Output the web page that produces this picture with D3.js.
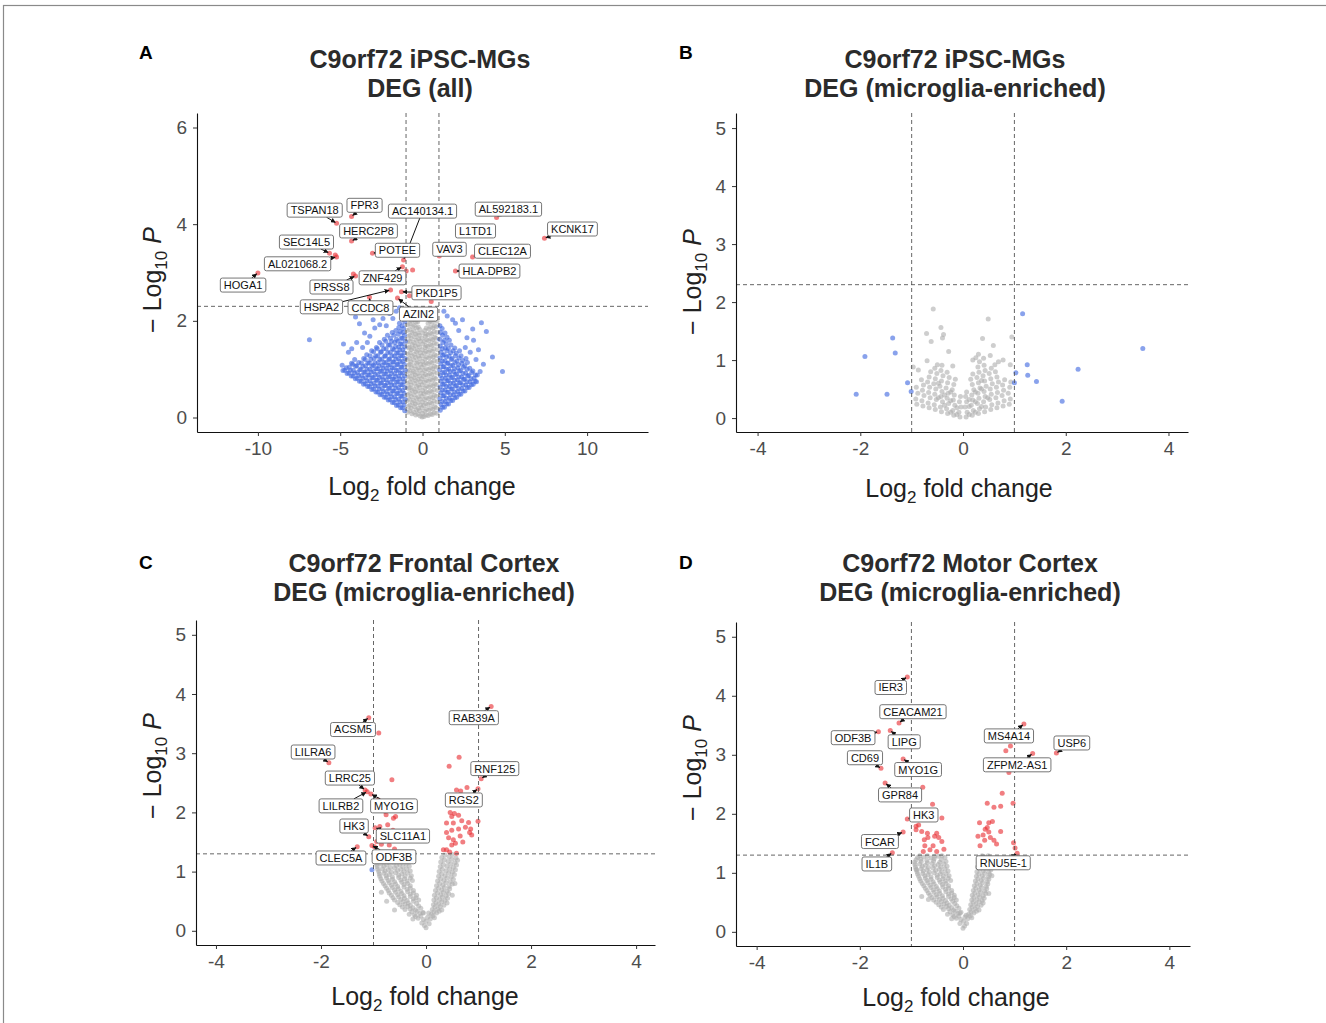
<!DOCTYPE html>
<html>
<head>
<meta charset="utf-8">
<script src="https://cdn.jsdelivr.net/npm/d3@7"></script>
<style>
  body { margin: 0; background: #fff; }
  svg { display: block; font-family: "Liberation Sans", Arial, sans-serif; }
</style>
</head>
<body>
<svg id="fig" width="1326" height="1023"></svg>
<script>
// ---- panel A : iPSC-MGs, all genes ----
const aGrey = [
  [-0.9,0.11],[-0.86,0.23],[-0.93,0.35],[-0.88,0.47],[-0.84,0.6],[-0.92,0.71],[-0.87,0.84],[-0.9,0.95],[-0.85,1.08],[-0.93,1.2],[-0.88,1.31],[-0.83,1.44],[-0.91,1.56],[-0.86,1.68],[-0.92,1.8],[-0.88,1.92],[-0.84,2.04],
  [-0.64,0.08],[-0.68,0.19],[-0.62,0.31],[-0.67,0.43],[-0.63,0.56],[-0.69,0.67],[-0.65,0.79],[-0.61,0.92],[-0.66,1.03],[-0.7,1.15],[-0.63,1.27],[-0.67,1.4],[-0.62,1.51],[-0.68,1.63],[-0.64,1.76],[-0.6,1.88],[-0.66,1.99],[-0.62,2.11],[-0.67,2.23],
  [-0.41,0.05],[-0.37,0.16],[-0.43,0.28],[-0.38,0.4],[-0.42,0.53],[-0.36,0.64],[-0.4,0.76],[-0.44,0.88],[-0.39,1.0],[-0.35,1.12],[-0.41,1.24],[-0.37,1.36],[-0.43,1.48],[-0.38,1.6],[-0.42,1.72],[-0.36,1.85],[-0.4,1.97],[-0.44,2.1],
  [-0.14,0.03],[-0.18,0.14],[-0.12,0.26],[-0.16,0.38],[-0.11,0.5],[-0.17,0.62],[-0.13,0.74],[-0.19,0.86],[-0.15,0.98],[-0.11,1.1],[-0.17,1.22],[-0.13,1.34],[-0.18,1.46],[-0.14,1.58],[-0.2,1.7],[-0.16,1.82],
  [0.09,0.02],[0.13,0.13],[0.07,0.25],[0.12,0.37],[0.08,0.49],[0.14,0.61],[0.1,0.73],[0.06,0.85],[0.12,0.97],[0.08,1.09],[0.14,1.21],[0.1,1.33],[0.16,1.45],[0.11,1.57],[0.17,1.68],[0.13,1.8],
  [0.34,0.04],[0.38,0.15],[0.32,0.27],[0.37,0.39],[0.33,0.51],[0.39,0.63],[0.35,0.75],[0.31,0.87],[0.37,0.99],[0.33,1.11],[0.39,1.23],[0.35,1.35],[0.31,1.47],[0.37,1.59],[0.33,1.71],[0.38,1.83],[0.34,1.95],[0.4,2.06],
  [0.59,0.06],[0.63,0.17],[0.57,0.29],[0.62,0.41],[0.58,0.53],[0.64,0.65],[0.6,0.77],[0.56,0.89],[0.62,1.01],[0.58,1.13],[0.64,1.25],[0.6,1.37],[0.56,1.49],[0.62,1.61],[0.58,1.73],[0.63,1.85],[0.59,1.97],[0.55,2.09],[0.61,2.2],
  [0.86,0.09],[0.82,0.2],[0.88,0.32],[0.84,0.44],[0.9,0.56],[0.85,0.68],[0.81,0.8],[0.87,0.92],[0.83,1.04],[0.89,1.16],[0.84,1.28],[0.9,1.4],[0.85,1.52],[0.81,1.64],[0.87,1.76],[0.83,1.88],[0.88,1.99]
];
const aGreyFill = [
  [-0.78,0.14],[-0.76,0.26],[-0.8,0.38],[-0.77,0.5],[-0.79,0.62],[-0.75,0.74],[-0.78,0.86],[-0.81,0.98],[-0.77,1.1],[-0.79,1.22],[-0.76,1.34],[-0.8,1.46],[-0.78,1.58],[-0.75,1.7],[-0.79,1.82],[-0.77,1.94],[-0.8,2.06],[-0.76,2.16],
  [-0.52,0.11],[-0.5,0.23],[-0.54,0.35],[-0.51,0.47],[-0.53,0.59],[-0.49,0.71],[-0.52,0.83],[-0.55,0.95],[-0.51,1.07],[-0.53,1.19],[-0.5,1.31],[-0.54,1.43],[-0.52,1.55],[-0.49,1.67],[-0.53,1.79],[-0.51,1.91],[-0.54,2.03],[-0.5,2.15],
  [-0.27,0.07],[-0.25,0.19],[-0.29,0.31],[-0.26,0.43],[-0.28,0.55],[-0.24,0.67],[-0.27,0.79],[-0.3,0.91],[-0.26,1.03],[-0.28,1.15],[-0.25,1.27],[-0.29,1.39],[-0.27,1.51],[-0.24,1.63],[-0.28,1.75],[-0.26,1.87],[-0.29,1.98],
  [-0.02,0.01],[0.0,0.09],[-0.04,0.2],[-0.01,0.32],[-0.03,0.44],[0.01,0.56],[-0.02,0.68],[-0.05,0.8],[-0.01,0.92],[-0.03,1.04],[0.0,1.16],[-0.04,1.28],[-0.02,1.4],[0.01,1.52],[-0.03,1.64],[-0.01,1.75],
  [0.22,0.05],[0.24,0.17],[0.2,0.29],[0.23,0.41],[0.21,0.53],[0.25,0.65],[0.22,0.77],[0.19,0.89],[0.23,1.01],[0.21,1.13],[0.24,1.25],[0.2,1.37],[0.22,1.49],[0.25,1.61],[0.21,1.73],[0.23,1.85],
  [0.48,0.07],[0.5,0.19],[0.46,0.31],[0.49,0.43],[0.47,0.55],[0.51,0.67],[0.48,0.79],[0.45,0.91],[0.49,1.03],[0.47,1.15],[0.5,1.27],[0.46,1.39],[0.48,1.51],[0.51,1.63],[0.47,1.75],[0.49,1.87],[0.46,1.99],[0.5,2.11],
  [0.72,0.1],[0.74,0.22],[0.7,0.34],[0.73,0.46],[0.71,0.58],[0.75,0.7],[0.72,0.82],[0.69,0.94],[0.73,1.06],[0.71,1.18],[0.74,1.3],[0.7,1.42],[0.72,1.54],[0.75,1.66],[0.71,1.78],[0.73,1.9],[0.7,2.02]
];
const aBlue = [
  [-1.08,0.14],[-1.13,0.26],[-1.06,0.38],[-1.12,0.5],[-1.07,0.62],[-1.14,0.74],[-1.09,0.86],[-1.05,0.98],[-1.11,1.1],[-1.07,1.22],[-1.13,1.34],[-1.08,1.46],[-1.04,1.58],[-1.1,1.7],[-1.15,1.84],[-1.08,1.98],[-1.12,2.12],
  [-1.33,0.2],[-1.38,0.32],[-1.31,0.44],[-1.37,0.56],[-1.32,0.68],[-1.39,0.8],[-1.34,0.92],[-1.3,1.04],[-1.36,1.16],[-1.32,1.28],[-1.38,1.4],[-1.33,1.52],[-1.29,1.64],[-1.35,1.78],[-1.4,1.95],
  [-1.58,0.25],[-1.63,0.37],[-1.56,0.49],[-1.62,0.61],[-1.57,0.73],[-1.64,0.85],[-1.59,0.97],[-1.55,1.09],[-1.61,1.21],[-1.57,1.33],[-1.63,1.47],[-1.58,1.62],[-1.62,1.8],
  [-1.83,0.31],[-1.88,0.43],[-1.81,0.55],[-1.87,0.67],[-1.82,0.79],[-1.89,0.91],[-1.84,1.03],[-1.8,1.15],[-1.86,1.28],[-1.82,1.42],[-1.88,1.58],[-1.84,1.76],
  [-2.08,0.36],[-2.13,0.48],[-2.06,0.6],[-2.12,0.72],[-2.07,0.84],[-2.14,0.96],[-2.09,1.08],[-2.05,1.2],[-2.11,1.34],[-2.07,1.5],[-2.13,1.7],
  [-2.33,0.42],[-2.38,0.54],[-2.31,0.66],[-2.37,0.78],[-2.32,0.9],[-2.39,1.02],[-2.34,1.14],[-2.3,1.27],[-2.36,1.42],[-2.32,1.62],
  [-2.58,0.47],[-2.63,0.59],[-2.56,0.71],[-2.62,0.83],[-2.57,0.95],[-2.64,1.07],[-2.59,1.2],[-2.55,1.35],[-2.61,1.55],
  [-2.83,0.53],[-2.88,0.65],[-2.81,0.77],[-2.87,0.89],[-2.82,1.01],[-2.89,1.13],[-2.84,1.27],[-2.8,1.45],
  [-3.08,0.58],[-3.13,0.7],[-3.06,0.82],[-3.12,0.94],[-3.07,1.06],[-3.14,1.2],[-3.09,1.38],
  [-3.33,0.64],[-3.38,0.76],[-3.31,0.88],[-3.37,1.0],[-3.32,1.13],[-3.39,1.3],
  [-3.58,0.69],[-3.63,0.81],[-3.56,0.93],[-3.62,1.06],[-3.57,1.22],
  [-3.83,0.75],[-3.88,0.87],[-3.81,0.99],[-3.87,1.14],
  [-4.08,0.8],[-4.13,0.92],[-4.06,1.06],[-4.12,1.2],
  [-4.33,0.86],[-4.38,0.98],[-4.31,1.12],
  [-4.58,0.91],[-4.63,1.03],[-4.83,0.97],[-4.88,1.08],
  [-6.87,1.61],[-4.8,1.52],[-3.83,1.94],[-3.52,1.75],[-4.0,1.55],[-3.2,1.68],[-2.9,1.85],[-2.6,1.92],[-2.4,2.05],[-3.0,2.02],
  [-2.0,2.15],[-1.6,2.2],[-1.4,2.27],[-4.5,1.35],[-3.64,1.45],[-2.2,1.9],[-1.8,2.05],[-4.3,1.42],[-3.35,1.55],[-4.07,2.08],
  [1.08,0.15],[1.13,0.27],[1.06,0.39],[1.12,0.51],[1.07,0.63],[1.14,0.75],[1.09,0.87],[1.05,0.99],[1.11,1.11],[1.07,1.23],[1.13,1.35],[1.08,1.48],[1.04,1.62],[1.1,1.76],[1.06,1.9],
  [1.33,0.21],[1.38,0.33],[1.31,0.45],[1.37,0.57],[1.32,0.69],[1.39,0.81],[1.34,0.93],[1.3,1.05],[1.36,1.17],[1.32,1.3],[1.38,1.44],[1.33,1.6],[1.37,1.75],
  [1.58,0.28],[1.63,0.4],[1.56,0.52],[1.62,0.64],[1.57,0.76],[1.64,0.88],[1.59,1.0],[1.55,1.13],[1.61,1.27],[1.57,1.43],[1.63,1.6],
  [1.83,0.35],[1.88,0.47],[1.81,0.59],[1.87,0.71],[1.82,0.83],[1.89,0.95],[1.84,1.08],[1.8,1.22],[1.86,1.38],
  [2.08,0.42],[2.13,0.54],[2.06,0.66],[2.12,0.78],[2.07,0.9],[2.14,1.03],[2.09,1.17],[2.05,1.33],
  [2.33,0.48],[2.38,0.6],[2.31,0.72],[2.37,0.84],[2.32,0.97],[2.39,1.12],[2.34,1.28],
  [2.58,0.55],[2.63,0.67],[2.56,0.79],[2.62,0.92],[2.57,1.07],[2.64,1.22],
  [2.83,0.62],[2.88,0.74],[2.81,0.87],[2.87,1.02],[3.08,0.69],[3.13,0.81],[3.06,0.96],[3.28,0.74],[3.33,0.88],
  [1.83,2.02],[2.43,2.02],[3.58,1.96],[3.88,1.78],[3.05,1.83],[3.1,1.6],[4.25,1.25],[4.86,0.95],[2.7,1.65],[2.2,1.8],
  [1.5,2.1],[3.4,1.4],[2.9,1.35],[3.7,1.1],[1.3,2.2],[2.0,1.95],[3.5,0.95],[2.6,1.45],[3.25,1.2]
];
const aBlueFill = [
  [-1.22,0.2],[-1.2,0.32],[-1.24,0.44],[-1.21,0.56],[-1.23,0.68],[-1.19,0.8],[-1.22,0.92],[-1.25,1.04],[-1.21,1.16],[-1.23,1.28],[-1.2,1.4],[-1.24,1.52],[-1.22,1.64],[-1.19,1.76],[-1.23,1.9],[-1.21,2.04],
  [-1.47,0.26],[-1.45,0.38],[-1.49,0.5],[-1.46,0.62],[-1.48,0.74],[-1.44,0.86],[-1.47,0.98],[-1.5,1.1],[-1.46,1.22],[-1.48,1.34],[-1.45,1.46],[-1.49,1.58],[-1.47,1.72],[-1.44,1.86],
  [-1.72,0.31],[-1.7,0.43],[-1.74,0.55],[-1.71,0.67],[-1.73,0.79],[-1.69,0.91],[-1.72,1.03],[-1.75,1.15],[-1.71,1.27],[-1.73,1.4],[-1.7,1.55],[-1.74,1.7],
  [-1.97,0.37],[-1.95,0.49],[-1.99,0.61],[-1.96,0.73],[-1.98,0.85],[-1.94,0.97],[-1.97,1.09],[-2.0,1.21],[-1.96,1.35],[-1.98,1.5],[-1.95,1.64],
  [-2.22,0.42],[-2.2,0.54],[-2.24,0.66],[-2.21,0.78],[-2.23,0.9],[-2.19,1.02],[-2.22,1.14],[-2.25,1.27],[-2.21,1.42],[-2.23,1.58],
  [-2.47,0.48],[-2.45,0.6],[-2.49,0.72],[-2.46,0.84],[-2.48,0.96],[-2.44,1.08],[-2.47,1.21],[-2.5,1.36],[-2.46,1.5],
  [-2.72,0.53],[-2.7,0.65],[-2.74,0.77],[-2.71,0.89],[-2.73,1.01],[-2.69,1.14],[-2.72,1.28],[-2.75,1.42],
  [-2.97,0.59],[-2.95,0.71],[-2.99,0.83],[-2.96,0.95],[-2.98,1.08],[-2.94,1.22],[-2.97,1.36],
  [-3.22,0.64],[-3.2,0.76],[-3.24,0.88],[-3.21,1.0],[-3.23,1.13],[-3.19,1.28],
  [-3.47,0.7],[-3.45,0.82],[-3.49,0.94],[-3.46,1.07],[-3.48,1.2],
  [-3.72,0.75],[-3.7,0.87],[-3.74,1.0],[-3.71,1.13],
  [-3.97,0.81],[-3.95,0.93],[-3.99,1.07],[-4.22,0.86],[-4.2,0.98],[-4.24,1.1],
  [-4.47,0.92],[-4.45,1.04],[-4.72,0.98],
  [1.22,0.21],[1.2,0.33],[1.24,0.45],[1.21,0.57],[1.23,0.69],[1.19,0.81],[1.22,0.93],[1.25,1.05],[1.21,1.17],[1.23,1.29],[1.2,1.42],[1.24,1.55],[1.22,1.7],[1.19,1.84],
  [1.47,0.28],[1.45,0.4],[1.49,0.52],[1.46,0.64],[1.48,0.76],[1.44,0.88],[1.47,1.0],[1.5,1.12],[1.46,1.25],[1.48,1.38],[1.45,1.52],[1.49,1.66],
  [1.72,0.35],[1.7,0.47],[1.74,0.59],[1.71,0.71],[1.73,0.83],[1.69,0.95],[1.72,1.07],[1.75,1.2],[1.71,1.34],[1.73,1.5],
  [1.97,0.41],[1.95,0.53],[1.99,0.65],[1.96,0.77],[1.98,0.89],[1.94,1.01],[1.97,1.14],[2.0,1.28],[1.96,1.44],
  [2.22,0.48],[2.2,0.6],[2.24,0.72],[2.21,0.84],[2.23,0.96],[2.19,1.09],[2.22,1.23],[2.25,1.38],
  [2.47,0.55],[2.45,0.67],[2.49,0.79],[2.46,0.91],[2.48,1.04],[2.44,1.18],
  [2.72,0.62],[2.7,0.74],[2.74,0.86],[2.71,1.0],[2.73,1.14],
  [2.97,0.68],[2.95,0.8],[2.99,0.93],[3.2,0.75],[3.22,0.88]
];
const aRed = [
  [-5.22,4.02,'TSPAN18'],[-4.31,4.16,'FPR3'],[-4.31,3.65,'HERC2P8'],[-5.65,3.40,'SEC14L5'],
  [-5.22,3.32,'AL021068.2'],[-10.0,2.99,'HOGA1'],[-3.04,3.40,'POTEE'],[-1.15,3.26,'AC140134.1'],
  [-1.22,3.12,'ZNF429'],[-4.07,2.93,'PRSS8'],[-1.94,2.64,'HSPA2'],[-3.22,2.49,'CCDC8'],
  [-1.28,2.60,'PKD1P5'],[-1.52,2.47,'AZIN2'],[4.5,4.14,'AL592183.1'],[3.3,3.84,'L1TD1'],
  [7.41,3.71,'KCNK17'],[1.02,3.34,'VAV3'],[3.04,3.32,'CLEC12A'],[2.0,3.03,'HLA-DPB2'],
  [-0.6,3.05],[-0.99,3.03],[-0.79,2.52],[0.53,2.4],[-4.2,2.97],[-5.3,3.36]
];
const aLabelAt = {
  TSPAN18:[-6.55,4.29], FPR3:[-3.52,4.39], HERC2P8:[-3.28,3.86], SEC14L5:[-7.05,3.63],
  'AL021068.2':[-7.59,3.18], HOGA1:[-10.9,2.74], POTEE:[-1.52,3.46], 'AC140134.1':[0,4.27],
  ZNF429:[-2.43,2.89], PRSS8:[-5.53,2.70], HSPA2:[-6.14,2.29], CCDC8:[-3.16,2.27],
  PKD1P5:[0.85,2.58], AZIN2:[-0.24,2.14], 'AL592183.1':[5.22,4.31], L1TD1:[3.22,3.86],
  KCNK17:[9.11,3.9], VAV3:[1.64,3.48], CLEC12A:[4.86,3.44], 'HLA-DPB2':[4.07,3.03]
};

// ---- panel B : iPSC-MGs, microglia-enriched ----
const bGrey = [
  [-0.9,0.24],[-0.92,0.33],[-0.88,0.43],[-0.91,0.53],
  [-0.78,0.21],[-0.8,0.3],[-0.76,0.39],[-0.79,0.48],[-0.77,0.57],[-0.81,0.66],
  [-0.66,0.18],[-0.68,0.26],[-0.64,0.35],[-0.67,0.44],[-0.65,0.53],[-0.69,0.62],[-0.66,0.71],[-0.63,0.8],
  [-0.54,0.15],[-0.56,0.23],[-0.52,0.32],[-0.55,0.41],[-0.53,0.5],[-0.57,0.59],[-0.54,0.68],[-0.51,0.77],[-0.55,0.86],
  [-0.42,0.11],[-0.44,0.19],[-0.4,0.28],[-0.43,0.37],[-0.41,0.46],[-0.45,0.55],[-0.42,0.64],[-0.39,0.73],[-0.43,0.82],[-0.41,0.91],
  [-0.3,0.08],[-0.32,0.16],[-0.28,0.25],[-0.31,0.34],[-0.29,0.43],[-0.33,0.52],[-0.3,0.61],[-0.27,0.7],[-0.31,0.79],
  [-0.18,0.05],[-0.2,0.13],[-0.16,0.22],[-0.19,0.31],[-0.17,0.4],[-0.21,0.49],[-0.18,0.58],[-0.15,0.67],
  [-0.06,0.02],[-0.08,0.1],[-0.04,0.19],[-0.07,0.28],[-0.05,0.37],
  [0.06,0.02],[0.08,0.1],[0.04,0.19],[0.07,0.28],[0.05,0.37],[0.07,0.45],
  [0.18,0.05],[0.2,0.13],[0.16,0.22],[0.19,0.31],[0.17,0.4],[0.21,0.49],[0.18,0.58],[0.15,0.67],[0.19,0.76],
  [0.3,0.08],[0.32,0.16],[0.28,0.25],[0.31,0.34],[0.29,0.43],[0.33,0.52],[0.3,0.61],[0.27,0.7],[0.31,0.79],[0.29,0.88],[0.32,0.97],
  [0.42,0.11],[0.44,0.19],[0.4,0.28],[0.43,0.37],[0.41,0.46],[0.45,0.55],[0.42,0.64],[0.39,0.73],[0.43,0.82],[0.41,0.91],
  [0.54,0.15],[0.56,0.23],[0.52,0.32],[0.55,0.41],[0.53,0.5],[0.57,0.59],[0.54,0.68],[0.51,0.77],[0.55,0.86],
  [0.66,0.18],[0.68,0.26],[0.64,0.35],[0.67,0.44],[0.65,0.53],[0.69,0.62],[0.66,0.71],[0.63,0.8],
  [0.78,0.21],[0.8,0.3],[0.76,0.39],[0.79,0.48],[0.77,0.57],[0.81,0.66],
  [0.9,0.24],[0.92,0.33],[0.88,0.43],[0.91,0.53],[0.93,0.62],
  [-0.12,0.06],[-0.24,0.1],[0.12,0.06],[0.24,0.1],[-0.12,0.18],[0.12,0.2],[0.24,0.28],[-0.24,0.3],[0.36,0.2],[-0.36,0.22],
  [0.24,0.45],[-0.24,0.45],[0.36,0.5],[-0.36,0.4],[0.12,0.32],[0.48,0.35],[-0.48,0.35],[0.36,0.65],[-0.48,0.6],
  [-0.58,1.88],[-0.43,1.56],[-0.71,1.46],[-0.38,1.44],[-0.4,1.38],[-0.62,1.32],[0.49,1.71],[0.59,1.25],[0.95,1.4],[0.38,1.37],
  [-0.28,1.15],[-0.7,0.99],[-0.5,0.92],[0.19,1.0],[0.25,1.04],[0.4,1.03],[0.53,1.08],[0.69,0.97],[0.78,1.0],[0.92,0.92],
  [-0.97,0.88],[-0.87,0.83],[0.62,0.92],[0.3,1.1],[-0.2,0.9]
];
const bBlue = [
  [-2.08,0.41],[-1.91,1.06],[-1.48,0.41],[-1.37,1.38],[-1.32,1.12],[-1.08,0.61],[-1.01,0.46],[1.0,0.61],
  [1.03,0.78],[1.16,1.8],[1.25,0.92],[1.26,0.74],[1.43,0.63],[1.93,0.29],[2.24,0.84],[3.5,1.2]
];
const bRed = [];

// ---- panel C : frontal cortex ----
const cGrey = [
  [0.0,0.05],[-0.03,0.09],[-0.08,0.13],[0.06,0.12],[0.0,0.16],
  [-0.25,0.2],[-0.15,0.21],[-0.05,0.19],[0.08,0.2],[0.16,0.22],
  [-0.32,0.28],[-0.22,0.27],[-0.12,0.29],[0.1,0.28],[0.2,0.3],
  [-0.4,0.36],[-0.3,0.37],[-0.2,0.35],[-0.1,0.38],[0.12,0.36],[0.22,0.37],[0.3,0.35],
  [-0.5,0.44],[-0.4,0.45],[-0.3,0.43],[-0.18,0.46],[0.14,0.44],[0.24,0.45],[0.34,0.43],
  [-0.6,0.52],[-0.48,0.53],[-0.36,0.51],[-0.24,0.54],[-0.14,0.52],[0.15,0.52],[0.26,0.53],[0.36,0.51],
  [-0.66,0.6],[-0.54,0.61],[-0.42,0.59],[-0.3,0.62],[-0.18,0.6],[0.16,0.6],[0.28,0.61],[0.38,0.59],
  [-0.72,0.68],[-0.6,0.69],[-0.48,0.67],[-0.36,0.7],[-0.24,0.68],[0.18,0.68],[0.3,0.69],[0.4,0.67],
  [-0.78,0.76],[-0.66,0.77],[-0.54,0.75],[-0.42,0.78],[-0.3,0.76],[0.2,0.76],[0.32,0.77],[0.44,0.75],
  [-0.84,0.84],[-0.72,0.85],[-0.6,0.83],[-0.48,0.86],[-0.36,0.84],[-0.26,0.85],[0.22,0.84],[0.34,0.85],[0.46,0.83],
  [-0.88,0.92],[-0.76,0.93],[-0.64,0.91],[-0.52,0.94],[-0.4,0.92],[-0.28,0.93],[0.24,0.92],[0.36,0.93],[0.48,0.91],
  [-0.9,1.0],[-0.78,1.01],[-0.66,0.99],[-0.54,1.02],[-0.42,1.0],[-0.3,1.01],[0.25,1.0],[0.38,1.01],[0.5,0.99],
  [-0.93,1.08],[-0.8,1.09],[-0.68,1.07],[-0.56,1.1],[-0.44,1.08],[-0.32,1.09],[0.27,1.08],[0.4,1.09],[0.52,1.07],
  [-0.95,1.16],[-0.82,1.17],[-0.7,1.15],[-0.58,1.18],[-0.46,1.16],[-0.34,1.17],[0.28,1.16],[0.42,1.17],[0.55,1.15],
  [-0.9,1.24],[-0.78,1.25],[-0.64,1.23],[-0.5,1.26],[-0.36,1.24],[0.3,1.24],[0.44,1.25],[0.57,1.23],
  [-0.6,0.35],[-0.75,0.5],[0.5,0.6],[0.55,0.8],[-0.85,0.65],[0.05,0.3],[-0.05,0.3]
];
const cGreyFill = [
  [-0.2,0.24],[-0.1,0.25],[0.03,0.23],[0.13,0.25],
  [-0.27,0.32],[-0.17,0.33],[-0.06,0.31],[0.15,0.32],[0.25,0.33],
  [-0.45,0.4],[-0.35,0.41],[-0.25,0.39],[-0.14,0.42],[0.17,0.4],[0.27,0.41],
  [-0.54,0.48],[-0.44,0.49],[-0.34,0.47],[-0.24,0.5],[0.19,0.48],[0.3,0.49],[0.4,0.47],
  [-0.63,0.56],[-0.52,0.57],[-0.41,0.55],[-0.3,0.58],[-0.19,0.56],[0.2,0.56],[0.31,0.57],[0.41,0.55],
  [-0.7,0.64],[-0.58,0.65],[-0.46,0.63],[-0.35,0.66],[-0.24,0.64],[0.22,0.64],[0.33,0.65],[0.43,0.63],
  [-0.75,0.72],[-0.64,0.73],[-0.53,0.71],[-0.42,0.74],[-0.3,0.72],[0.24,0.72],[0.35,0.73],[0.45,0.71],
  [-0.81,0.8],[-0.7,0.81],[-0.58,0.79],[-0.46,0.82],[-0.35,0.8],[0.26,0.8],[0.38,0.81],[0.5,0.79],
  [-0.86,0.88],[-0.75,0.89],[-0.64,0.87],[-0.52,0.9],[-0.41,0.88],[-0.3,0.89],[0.28,0.88],[0.4,0.89],[0.52,0.87],
  [-0.89,0.96],[-0.8,0.97],[-0.7,0.95],[-0.58,0.98],[-0.46,0.96],[-0.35,0.97],[0.3,0.96],[0.43,0.97],[0.54,0.95],
  [-0.92,1.04],[-0.83,1.05],[-0.72,1.03],[-0.6,1.06],[-0.48,1.04],[-0.37,1.05],[0.31,1.04],[0.45,1.05],[0.56,1.03],
  [-0.94,1.12],[-0.86,1.13],[-0.75,1.11],[-0.62,1.14],[-0.5,1.12],[-0.38,1.13],[0.33,1.12],[0.47,1.13],[0.58,1.11],
  [-0.92,1.2],[-0.84,1.21],[-0.72,1.19],[-0.58,1.22],[-0.44,1.2],[0.35,1.2],[0.49,1.21],[0.6,1.19],
  [-0.85,1.28],[-0.7,1.29],[-0.56,1.27],[-0.42,1.28],[0.36,1.28],[0.5,1.29]
];
const cBlue = [[-1.03,1.03]];
const cRed = [
  [-1.09,3.6,'ACSM5'],[-1.85,2.84,'LILRA6'],[-1.16,2.38,'LRRC25'],[-1.12,2.35,'LILRB2'],
  [-1.05,2.31,'MYO1G'],[-1.09,1.59,'HK3'],[-0.97,1.74,'SLC11A1'],[-1.31,1.42,'CLEC5A'],
  [-1.03,1.44,'ODF3B'],[1.24,3.79,'RAB39A'],[1.05,2.57,'RNF125'],[0.99,2.4,'RGS2'],
  [-0.9,3.34],[-0.65,2.55],[-0.69,2.1],[-0.76,1.96],[-0.62,1.9],[-0.58,1.93],[-0.73,1.79],[-0.88,1.76],
  [-0.63,1.7],[-0.53,1.59],[-0.94,1.51],[-0.85,1.46],[-0.98,1.42],[-0.88,1.32],[-0.91,2.21],[-0.8,1.62],
  [-0.7,1.45],[-0.6,1.38],[-0.78,2.02],
  [0.63,2.93],[0.44,2.78],[0.78,2.42],[0.58,2.38],[0.66,2.36],[0.46,2.0],[0.54,1.98],[0.62,1.95],
  [0.49,1.93],[0.39,1.82],[0.52,1.82],[0.68,1.86],[0.81,1.83],[0.85,1.72],[0.99,1.85],[0.62,1.72],
  [0.65,1.6],[0.49,1.7],[0.39,1.66],[0.83,1.66],[0.87,1.62],[0.52,1.54],[0.56,1.48],[0.49,1.45],
  [0.39,1.37],[0.33,1.37],[0.58,1.31],[0.45,1.33],[0.7,1.5],[0.75,1.75],[0.43,1.57]
];
const cLabelAt = {
  ACSM5:[-1.39,3.40], LILRA6:[-2.15,3.02], LRRC25:[-1.45,2.58], LILRB2:[-1.62,2.11],
  MYO1G:[-0.61,2.11], HK3:[-1.37,1.77], SLC11A1:[-0.44,1.6], CLEC5A:[-1.62,1.23],
  ODF3B:[-0.61,1.25], RAB39A:[0.91,3.6], RNF125:[1.31,2.74], RGS2:[0.72,2.21]
};

// ---- panel D : motor cortex ----
const dGrey = [
  [0.0,0.06],[0.03,0.1],[-0.06,0.14],[0.07,0.14],[0.01,0.18],
  [-0.22,0.22],[-0.13,0.23],[-0.04,0.21],[0.09,0.22],[0.17,0.24],
  [-0.3,0.3],[-0.2,0.29],[-0.1,0.31],[0.11,0.3],[0.21,0.32],
  [-0.38,0.38],[-0.28,0.39],[-0.18,0.37],[-0.08,0.4],[0.13,0.38],[0.23,0.39],[0.31,0.37],
  [-0.47,0.46],[-0.37,0.47],[-0.27,0.45],[-0.16,0.48],[0.15,0.46],[0.25,0.47],[0.35,0.45],
  [-0.57,0.54],[-0.46,0.55],[-0.34,0.53],[-0.23,0.56],[-0.13,0.54],[0.17,0.54],[0.27,0.55],[0.37,0.53],
  [-0.64,0.62],[-0.52,0.63],[-0.4,0.61],[-0.28,0.64],[-0.17,0.62],[0.18,0.62],[0.29,0.63],[0.39,0.61],
  [-0.7,0.7],[-0.58,0.71],[-0.46,0.69],[-0.34,0.72],[-0.22,0.7],[0.2,0.7],[0.31,0.71],[0.42,0.69],
  [-0.76,0.78],[-0.64,0.79],[-0.52,0.77],[-0.4,0.8],[-0.28,0.78],[0.22,0.78],[0.33,0.79],[0.45,0.77],
  [-0.82,0.86],[-0.7,0.87],[-0.58,0.85],[-0.46,0.88],[-0.34,0.86],[-0.24,0.87],[0.24,0.86],[0.35,0.87],[0.47,0.85],
  [-0.86,0.94],[-0.74,0.95],[-0.62,0.93],[-0.5,0.96],[-0.38,0.94],[-0.27,0.95],[0.26,0.94],[0.37,0.95],[0.49,0.93],
  [-0.89,1.02],[-0.77,1.03],[-0.65,1.01],[-0.53,1.04],[-0.41,1.02],[-0.29,1.03],[0.27,1.02],[0.39,1.03],[0.5,1.01],
  [-0.92,1.1],[-0.79,1.11],[-0.67,1.09],[-0.55,1.12],[-0.43,1.1],[-0.31,1.11],[0.28,1.1],[0.41,1.11],[0.52,1.09],
  [-0.94,1.18],[-0.81,1.19],[-0.69,1.17],[-0.57,1.2],[-0.45,1.18],[-0.33,1.19],[0.3,1.18],[0.43,1.19],[0.54,1.17],
  [-0.88,1.26],[-0.76,1.27],[-0.62,1.25],[-0.48,1.28],[-0.35,1.26],[0.32,1.26],[0.45,1.27],[0.52,1.25],
  [-0.67,0.55],[-0.9,1.05],[-0.8,0.6],[0.5,0.65],[0.56,0.95],[-0.06,0.32],[0.06,0.28]
];
const dGreyFill = [
  [-0.17,0.26],[-0.08,0.27],[0.04,0.25],[0.14,0.27],
  [-0.25,0.34],[-0.15,0.35],[-0.04,0.33],[0.16,0.34],[0.26,0.35],
  [-0.42,0.42],[-0.32,0.43],[-0.22,0.41],[-0.12,0.44],[0.18,0.42],[0.28,0.43],
  [-0.52,0.5],[-0.42,0.51],[-0.31,0.49],[-0.2,0.52],[0.2,0.5],[0.31,0.51],[0.39,0.49],
  [-0.6,0.58],[-0.5,0.59],[-0.39,0.57],[-0.28,0.6],[-0.17,0.58],[0.21,0.58],[0.32,0.59],[0.41,0.57],
  [-0.67,0.66],[-0.56,0.67],[-0.45,0.65],[-0.33,0.68],[-0.22,0.66],[0.23,0.66],[0.34,0.67],[0.44,0.65],
  [-0.73,0.74],[-0.62,0.75],[-0.5,0.73],[-0.39,0.76],[-0.28,0.74],[0.25,0.74],[0.36,0.75],[0.46,0.73],
  [-0.79,0.82],[-0.68,0.83],[-0.56,0.81],[-0.44,0.84],[-0.33,0.82],[0.27,0.82],[0.38,0.83],[0.48,0.81],
  [-0.84,0.9],[-0.73,0.91],[-0.62,0.89],[-0.5,0.92],[-0.39,0.9],[-0.29,0.91],[0.29,0.9],[0.4,0.91],[0.5,0.89],
  [-0.88,0.98],[-0.78,0.99],[-0.68,0.97],[-0.56,1.0],[-0.44,0.98],[-0.33,0.99],[0.31,0.98],[0.42,0.99],[0.52,0.97],
  [-0.91,1.06],[-0.81,1.07],[-0.7,1.05],[-0.58,1.08],[-0.46,1.06],[-0.35,1.07],[0.32,1.06],[0.44,1.07],[0.54,1.05],
  [-0.93,1.14],[-0.84,1.15],[-0.73,1.13],[-0.6,1.16],[-0.48,1.14],[-0.37,1.15],[0.34,1.14],[0.46,1.15],[0.55,1.13],
  [-0.91,1.22],[-0.82,1.23],[-0.7,1.21],[-0.56,1.24],[-0.42,1.22],[0.36,1.22],[0.48,1.23],[0.56,1.21],
  [-0.84,1.29],[-0.69,1.29],[-0.55,1.28],[-0.41,1.29],[0.37,1.29],[0.49,1.29]
];
const dBlue = [];
const dRed = [
  [-1.08,4.32,'IER3'],[-1.24,3.54,'CEACAM21'],[-1.64,3.39,'ODF3B'],[-1.41,3.41,'LIPG'],
  [-1.59,2.77,'CD69'],[-1.16,2.93,'MYO1G'],[-1.51,2.52,'GPR84'],[-1.08,1.91,'HK3'],
  [-1.16,1.69,'FCAR'],[-1.37,1.34,'IL1B'],[1.18,3.52,'MS4A14'],[1.81,3.03,'USP6'],
  [1.35,3.02,'ZFPM2-AS1'],[1.05,1.33,'RNU5E-1'],
  [0.92,3.15],[0.83,3.07],[0.89,2.7],[0.76,2.35],[0.97,2.18],[0.47,2.18],[0.6,2.11],[0.73,2.13],
  [0.32,1.85],[0.5,1.85],[0.57,1.87],[0.43,1.74],[0.47,1.77],[0.5,1.69],[0.73,1.7],[0.39,1.64],
  [0.29,1.62],[0.53,1.6],[0.65,1.49],[0.33,1.46],[0.98,1.51],[1.01,1.42],[0.42,1.55],[0.6,1.55],
  [-0.78,2.45],[-0.41,1.93],[-0.59,2.16],[-0.62,2.0],[-0.91,1.79],[-0.86,1.81],[-0.8,1.7],[-0.69,1.67],
  [-0.51,1.67],[-0.47,1.6],[-0.41,1.53],[-0.75,1.56],[-0.74,1.46],[-0.58,1.46],[-0.77,1.36],[-0.51,1.36],
  [-0.64,1.39],[-0.37,1.4],[-0.91,1.73],[-0.55,1.62],[-0.68,1.6]
];
const dLabelAt = {
  IER3:[-1.40,4.14], CEACAM21:[-0.97,3.73], ODF3B:[-2.13,3.29], LIPG:[-1.14,3.22],
  CD69:[-1.90,2.95], MYO1G:[-0.87,2.75], GPR84:[-1.22,2.32], HK3:[-0.76,1.98],
  FCAR:[-1.61,1.53], IL1B:[-1.67,1.15], MS4A14:[0.89,3.32], USP6:[2.11,3.20],
  'ZFPM2-AS1':[1.05,2.83], 'RNU5E-1':[0.78,1.17]
};

const titles = {
  A: ['C9orf72 iPSC-MGs', 'DEG (all)'],
  B: ['C9orf72 iPSC-MGs', 'DEG (microglia-enriched)'],
  C: ['C9orf72 Frontal Cortex', 'DEG (microglia-enriched)'],
  D: ['C9orf72 Motor Cortex', 'DEG (microglia-enriched)']
};
const pCutoffs = { A: 2.3, B: 2.3, C: 1.3, D: 1.3 };
const fcCutoff = [-1, 1];
const xTicksA = [-10, -5, 0, 5, 10];
const xTicksRest = [-4, -2, 0, 2, 4];
const yTicksA = [0, 2, 4, 6];
const yTicksRest = [0, 1, 2, 3, 4, 5];

// ---- layout ----
const panels = [
  { id:'A', grey:aGrey.concat(aGreyFill), blue:aBlue.concat(aBlueFill), red:aRed, at:aLabelAt, xt:xTicksA, yt:yTicksA,
    left:197, right:648, top:113, bottom:432, xd:[-13.7,13.7], yd:[-0.3,6.3],
    letter:[139,59], titleX:420, titleY:68, ylabX:161, ylabY:280, xlabX:422, xlabY:495 },
  { id:'B', grey:bGrey, blue:bBlue, red:bRed, at:{}, xt:xTicksRest, yt:yTicksRest,
    left:736, right:1188, top:113, bottom:432, xd:[-4.42,4.38], yd:[-0.24,5.26],
    letter:[679,59], titleX:955, titleY:68, ylabX:701, ylabY:282, xlabX:959, xlabY:497 },
  { id:'C', grey:cGrey.concat(cGreyFill), blue:cBlue, red:cRed, at:cLabelAt, xt:xTicksRest, yt:yTicksRest,
    left:196, right:655, top:620, bottom:945, xd:[-4.38,4.36], yd:[-0.24,5.25],
    letter:[139,569], titleX:424, titleY:572, ylabX:161, ylabY:766, xlabX:425, xlabY:1005 },
  { id:'D', grey:dGrey.concat(dGreyFill), blue:dBlue, red:dRed, at:dLabelAt, xt:xTicksRest, yt:yTicksRest,
    left:736, right:1190, top:622, bottom:946, xd:[-4.4,4.4], yd:[-0.24,5.25],
    letter:[679,569], titleX:970, titleY:572, ylabX:701, ylabY:768, xlabX:956, xlabY:1006 }
];

const svg = d3.select('#fig');

// outer frame of the figure
svg.append('rect').attr('x', 3.5).attr('y', 5.5).attr('width', 1400).attr('height', 1100)
  .attr('fill', 'none').attr('stroke', '#8a8a8a').attr('stroke-width', 1.2);

const defs = svg.append('defs');
defs.append('marker').attr('id', 'arr').attr('viewBox', '0 0 10 10')
  .attr('refX', 9).attr('refY', 5).attr('markerWidth', 5).attr('markerHeight', 5)
  .attr('orient', 'auto')
  .append('path').attr('d', 'M0,0L10,5L0,10z').attr('fill', '#111');

panels.forEach(p => {
  const g = svg.append('g');
  const x = d3.scaleLinear().domain(p.xd).range([p.left, p.right]);
  const y = d3.scaleLinear().domain(p.yd).range([p.bottom, p.top]);

  // points
  [[p.grey, '#adadad', 0.6], [p.blue, '#4169e1', 0.62], [p.red, '#e8282d', 0.6]].forEach(([pts, col, op]) => {
    g.append('g').selectAll('circle').data(pts).join('circle')
      .attr('cx', d => x(d[0])).attr('cy', d => y(d[1])).attr('r', 2.5)
      .attr('fill', col).attr('fill-opacity', op);
  });

  // cutoff lines
  const cut = g.append('g').attr('stroke', '#555').attr('stroke-width', 0.9)
    .attr('stroke-dasharray', '4,3');
  fcCutoff.forEach(v => cut.append('line')
    .attr('x1', x(v)).attr('x2', x(v)).attr('y1', p.top).attr('y2', p.bottom));
  cut.append('line').attr('x1', p.left).attr('x2', p.right)
    .attr('y1', y(pCutoffs[p.id])).attr('y2', y(pCutoffs[p.id]));

  // axes
  const xa = g.append('g').attr('transform', `translate(0,${p.bottom})`)
    .call(d3.axisBottom(x).tickValues(p.xt).tickSize(4).tickSizeOuter(0).tickPadding(6)
      .tickFormat(d3.format('d')));
  const ya = g.append('g').attr('transform', `translate(${p.left},0)`)
    .call(d3.axisLeft(y).tickValues(p.yt).tickSize(4).tickSizeOuter(0).tickPadding(6)
      .tickFormat(d3.format('d')));
  [xa, ya].forEach(a => {
    a.select('.domain').attr('stroke', '#111').attr('stroke-width', 1.1);
    a.selectAll('.tick line').attr('stroke', '#333').attr('stroke-width', 1);
    a.selectAll('.tick text').attr('font-size', 19).attr('fill', '#4d4d4d')
      .attr('font-family', '"Liberation Sans", Arial, sans-serif')
      .text(d => String(d).replace('−', '-'));
  });

  // connectors + boxed labels
  const conn = g.append('g');
  const labs = g.append('g');
  p.red.filter(d => d[2]).forEach(d => {
    const pos = p.at[d[2]];
    const cx = x(pos[0]), cy = y(pos[1]), px = x(d[0]), py = y(d[1]);
    const lg = labs.append('g');
    const t = lg.append('text').attr('x', cx).attr('y', cy).attr('dy', '0.36em')
      .attr('text-anchor', 'middle').attr('font-size', 11).attr('fill', '#111').text(d[2]);
    const w = t.node().getComputedTextLength() + 7, h = 14;
    lg.insert('rect', 'text').attr('x', cx - w / 2).attr('y', cy - h / 2)
      .attr('width', w).attr('height', h).attr('rx', 2)
      .attr('fill', '#fff').attr('stroke', '#666').attr('stroke-width', 0.9);
    const dx = px - cx, dy = py - cy;
    const s = Math.min(dx ? (w / 2) / Math.abs(dx) : Infinity, dy ? (h / 2) / Math.abs(dy) : Infinity);
    if (s < 1) {
      const len = Math.hypot(dx, dy);
      const k = Math.max(s, 1 - 1.5 / len);
      conn.append('line').attr('x1', cx + dx * s).attr('y1', cy + dy * s)
        .attr('x2', cx + dx * k).attr('y2', cy + dy * k)
        .attr('stroke', '#111').attr('stroke-width', 1).attr('marker-end', 'url(#arr)');
    }
  });

  // titles, letters, axis titles
  svg.append('text').attr('x', p.letter[0]).attr('y', p.letter[1])
    .attr('font-size', 19).attr('font-weight', 'bold').attr('fill', '#000').text(p.id);
  titles[p.id].forEach((line, i) => svg.append('text')
    .attr('x', p.titleX).attr('y', p.titleY + i * 28.5).attr('text-anchor', 'middle')
    .attr('font-size', 25).attr('font-weight', 'bold').attr('fill', '#2b2b2b').text(line));

  const xl = svg.append('text').attr('x', p.xlabX).attr('y', p.xlabY)
    .attr('text-anchor', 'middle').attr('font-size', 25).attr('fill', '#222');
  xl.append('tspan').text('Log');
  xl.append('tspan').attr('font-size', 17).attr('dy', 6).text('2');
  xl.append('tspan').attr('dy', -6).text(' fold change');

  const yl = svg.append('text')
    .attr('transform', `translate(${p.ylabX},${p.ylabY}) rotate(-90)`)
    .attr('text-anchor', 'middle').attr('font-size', 25).attr('fill', '#222');
  yl.append('tspan').text('\u2212 Log');
  yl.append('tspan').attr('font-size', 17).attr('dy', 6).text('10');
  yl.append('tspan').attr('dy', -6).text(' ');
  yl.append('tspan').attr('font-style', 'italic').text('P');
});
</script>
</body>
</html>
